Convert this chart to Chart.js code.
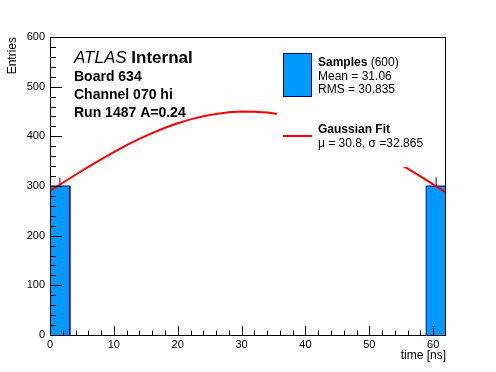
<!DOCTYPE html>
<html>
<head>
<meta charset="utf-8">
<script src="https://cdn.jsdelivr.net/npm/chart.js@4.4.1/dist/chart.umd.min.js"></script>
<style>
html,body{margin:0;padding:0;background:#fff;}
#wrap{width:496px;height:372px;position:relative;}
</style>
</head>
<body>
<div id="wrap"><canvas id="c" width="496" height="372"></canvas></div>
<script>
// ---- data ----
const binEdges = [0, 3.1, 6.2, 9.3, 12.4, 15.5, 18.6, 21.7, 24.8, 27.9, 31.0, 34.1, 37.2, 40.3, 43.4, 46.5, 49.6, 52.7, 55.8, 58.9, 62.0];
const binCounts = [300, 0, 0, 0, 0, 0, 0, 0, 0, 0, 0, 0, 0, 0, 0, 0, 0, 0, 0, 300];
const binErrors = [17.3, 0, 0, 0, 0, 0, 0, 0, 0, 0, 0, 0, 0, 0, 0, 0, 0, 0, 0, 17.3];
const fitX = [0, 2, 4, 6, 8, 10, 12, 14, 16, 18, 20, 22, 24, 26, 28, 30, 32, 34, 36, 38, 40, 42, 44, 46, 48, 50, 52, 54, 56, 58, 60, 62];
const fitY = [290, 306.5, 322.7, 338.5, 353.8, 368.3, 382.1, 394.9, 406.6, 417.2, 426.3, 434.2, 440.5, 445.2, 448.4, 449.9, 449.7, 447.9, 444.4, 439.3, 432.7, 424.6, 415.1, 404.3, 392.4, 379.4, 365.4, 350.6, 335.2, 319.3, 303.1, 286.7];
const xTickLabels = [0, 10, 20, 30, 40, 50, 60];
const yTickLabels = [0, 100, 200, 300, 400, 500, 600];
const xMinorStep = 2;
const yMinorStep = 20;
const xRange = [0, 62];
const yRange = [0, 600];
const textLines = ["Board 634", "Channel 070 hi", "Run 1487 A=0.24"];
const legendSamples = {title: "Samples", count: "(600)", mean: "Mean = 31.06", rms: "RMS = 30.835"};
const legendFit = {title: "Gaussian Fit", params: "\u03bc = 30.8, \u03c3 =32.865"};

const FILL = '#0099ff';
const EDGE = '#000099';
const FONT = '"Liberation Sans", Arial, Helvetica, sans-serif';

// ---- datasets ----
const datasets = [];
for (let i = 0; i < binCounts.length; i++) {
  if (binCounts[i] <= 0) continue;
  const lo = binEdges[i], hi = binEdges[i + 1], c = binCounts[i];
  datasets.push({
    label: 'bin' + i,
    data: [{x: lo, y: 0}, {x: lo, y: c}, {x: hi, y: c}, {x: hi, y: 0}],
    showLine: true, borderColor: EDGE, borderWidth: 1, backgroundColor: FILL,
    fill: 'origin', pointRadius: 0, tension: 0, order: 3
  });
  const mid = (lo + hi) / 2;
  datasets.push({
    label: 'err' + i,
    data: [{x: mid, y: c}, {x: mid, y: c + binErrors[i]}],
    showLine: true, borderColor: EDGE, borderWidth: 1, pointRadius: 0, fill: false, order: 2
  });
}
datasets.push({
  label: 'fit',
  data: fitX.map((x, i) => ({x: x, y: fitY[i]})),
  showLine: true, borderColor: '#ff0000', borderWidth: 2, pointRadius: 0, fill: false, tension: 0, order: 1
});

const rootPlugin = {
  id: 'rootStyle',
  afterDatasetsDraw(chart) {
    const ctx = chart.ctx;
    const a = chart.chartArea;
    const xs = chart.scales.x, ys = chart.scales.y;
    ctx.save();
    // legend white box (covers the fit like ROOT's TLegend)
    ctx.fillStyle = '#ffffff';
    ctx.fillRect(277, 44, a.right - 277, 123);

    // frame
    ctx.strokeStyle = '#000';
    ctx.lineWidth = 1;
    ctx.strokeRect(a.left + 0.5, a.top + 0.5, a.right - a.left - 1, a.bottom - a.top);

    // y ticks
    ctx.beginPath();
    for (let v = yRange[0]; v <= yRange[1]; v += yMinorStep) {
      const py = Math.round(ys.getPixelForValue(v)) + 0.5;
      const major = yTickLabels.includes(v);
      const len = major ? 12 : 6;
      ctx.moveTo(a.left, py); ctx.lineTo(a.left + len, py);
    }
    // x ticks
    for (let v = xRange[0]; v < xRange[1]; v += xMinorStep) {
      const px = Math.round(xs.getPixelForValue(v)) + 0.5;
      const major = xTickLabels.includes(v);
      const len = major ? 9 : 4.5;
      ctx.moveTo(px, a.bottom); ctx.lineTo(px, a.bottom - len);
    }
    ctx.stroke();

    // tick labels
    ctx.fillStyle = '#000';
    ctx.font = '11px ' + FONT;
    ctx.textAlign = 'right'; ctx.textBaseline = 'middle';
    yTickLabels.forEach(v => ctx.fillText(String(v), a.left - 5, ys.getPixelForValue(v)));
    ctx.textAlign = 'center'; ctx.textBaseline = 'top';
    xTickLabels.forEach(v => ctx.fillText(String(v), xs.getPixelForValue(v), a.bottom + 4));

    // axis titles
    ctx.font = '12px ' + FONT;
    ctx.textAlign = 'right'; ctx.textBaseline = 'alphabetic';
    ctx.fillText('time [ns]', a.right, 359);
    ctx.save();
    ctx.translate(16, a.top);
    ctx.rotate(-Math.PI / 2);
    ctx.textAlign = 'right';
    ctx.fillText('Entries', 0, 0);
    ctx.restore();

    // ATLAS label
    ctx.textAlign = 'left'; ctx.textBaseline = 'alphabetic';
    ctx.font = 'italic 17px ' + FONT;
    ctx.fillText('ATLAS', 74, 63);
    const w = ctx.measureText('ATLAS ').width;
    ctx.font = 'bold 17px ' + FONT;
    ctx.fillText('Internal', 74 + w, 63);
    ctx.font = 'bold 14px ' + FONT;
    textLines.forEach((t, i) => ctx.fillText(t, 74, 81 + i * 17.8));

    // legend entries
    ctx.fillStyle = FILL;
    ctx.fillRect(283.5, 53.5, 28, 43);
    ctx.strokeStyle = EDGE;
    ctx.strokeRect(283.5, 53.5, 28, 43);
    ctx.fillStyle = '#000';
    ctx.font = 'bold 12px ' + FONT;
    ctx.fillText(legendSamples.title, 318, 66);
    const sw = ctx.measureText(legendSamples.title + ' ').width;
    ctx.font = '12px ' + FONT;
    ctx.fillText(legendSamples.count, 318 + sw, 66);
    ctx.fillText(legendSamples.mean, 318, 80);
    ctx.fillText(legendSamples.rms, 318, 93);

    ctx.strokeStyle = '#ff0000'; ctx.lineWidth = 2;
    ctx.beginPath(); ctx.moveTo(283, 136); ctx.lineTo(312, 136); ctx.stroke();
    ctx.font = 'bold 12px ' + FONT;
    ctx.fillText(legendFit.title, 318, 133);
    ctx.font = '12px ' + FONT;
    ctx.fillText(legendFit.params, 318, 147);
    ctx.restore();
  }
};

new Chart(document.getElementById('c'), {
  type: 'scatter',
  data: {datasets: datasets},
  options: {
    responsive: false,
    animation: false,
    events: [],
    layout: {padding: {left: 50, top: 37, right: 50, bottom: 37}},
    plugins: {legend: {display: false}, tooltip: {enabled: false}},
    scales: {
      x: {type: 'linear', min: xRange[0], max: xRange[1], display: false},
      y: {type: 'linear', min: yRange[0], max: yRange[1], display: false}
    }
  },
  plugins: [rootPlugin]
});
</script>
</body>
</html>
